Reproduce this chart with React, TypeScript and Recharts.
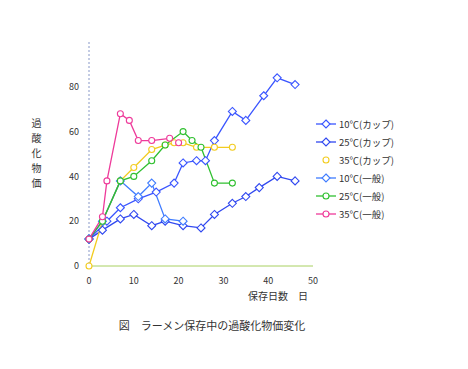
import React from 'react';
import { LineChart, Line, XAxis, YAxis } from 'recharts';

const DAY_TICKS = [0, 10, 20, 30, 40, 50];
const VALUE_TICKS = [0, 20, 40, 60, 80];

// 保存日数 / 過酸化物価
const cup10 = [
  { day: 0, value: 12 }, { day: 4, value: 20 }, { day: 7, value: 26 }, { day: 11, value: 30 },
  { day: 15, value: 33 }, { day: 19, value: 37 }, { day: 21, value: 46 }, { day: 24, value: 47 },
  { day: 26, value: 47 }, { day: 28, value: 56 }, { day: 32, value: 69 }, { day: 35, value: 65 },
  { day: 39, value: 76 }, { day: 42, value: 84 }, { day: 46, value: 81 },
];
const cup25 = [
  { day: 0, value: 12 }, { day: 3, value: 16 }, { day: 7, value: 21 }, { day: 10, value: 23 },
  { day: 14, value: 18 }, { day: 17, value: 20 }, { day: 21, value: 18 }, { day: 25, value: 17 },
  { day: 28, value: 23 }, { day: 32, value: 28 }, { day: 35, value: 31 }, { day: 38, value: 35 },
  { day: 42, value: 40 }, { day: 46, value: 38 },
];
const cup35 = [
  { day: 0, value: 0 }, { day: 3, value: 20 }, { day: 7, value: 38 }, { day: 10, value: 44 },
  { day: 14, value: 52 }, { day: 17, value: 54 }, { day: 19, value: 55 }, { day: 21, value: 55 },
  { day: 24, value: 53 }, { day: 28, value: 53 }, { day: 32, value: 53 },
];
const std10 = [
  { day: 0, value: 12 }, { day: 3, value: 20 }, { day: 7, value: 38 }, { day: 11, value: 31 },
  { day: 14, value: 37 }, { day: 17, value: 21 }, { day: 21, value: 20 },
];
const std25 = [
  { day: 0, value: 12 }, { day: 3, value: 20 }, { day: 7, value: 38 }, { day: 10, value: 40 },
  { day: 14, value: 47 }, { day: 17, value: 54 }, { day: 21, value: 60 }, { day: 23, value: 56 },
  { day: 25, value: 53 }, { day: 28, value: 37 }, { day: 32, value: 37 },
];
const std35 = [
  { day: 0, value: 12 }, { day: 3, value: 22 }, { day: 4, value: 38 }, { day: 7, value: 68 },
  { day: 9, value: 65 }, { day: 11, value: 56 }, { day: 14, value: 56 }, { day: 18, value: 57 },
  { day: 20, value: 55 },
];

const FONT = '"Noto Sans CJK JP", "Noto Sans", sans-serif';

type Marker = 'diamond' | 'filled' | 'circle';

const SERIES = [
  { name: '10℃(カップ)', data: cup10, color: '#3a55ff', marker: 'diamond' as Marker, line: true },
  { name: '25℃(カップ)', data: cup25, color: '#3048f0', marker: 'diamond' as Marker, line: true },
  { name: '35℃(カップ)', data: cup35, color: '#f2cc20', marker: 'circle' as Marker, line: false },
  { name: '10℃(一般)', data: std10, color: '#3f7cff', marker: 'diamond' as Marker, line: true },
  { name: '25℃(一般)', data: std25, color: '#30c030', marker: 'circle' as Marker, line: true },
  { name: '35℃(一般)', data: std35, color: '#ee3a9a', marker: 'circle' as Marker, line: true },
];

function markerShape(marker: Marker, color: string, cx: number, cy: number, key?: any) {
  if (marker === 'circle') {
    return <circle key={key} cx={cx} cy={cy} r={3} fill="#fff" stroke={color} strokeWidth={1.1} />;
  }
  const d = `M${cx},${cy - 4}L${cx + 4},${cy}L${cx},${cy + 4}L${cx - 4},${cy}Z`;
  return <path key={key} d={d} fill={marker === 'filled' ? color : '#fff'} stroke={color} strokeWidth={1.1} />;
}

const makeDot = (marker: Marker, color: string) => (props: any) => {
  const { cx, cy, index } = props;
  if (cx == null || cy == null) return <g key={index} />;
  return markerShape(marker, color, cx, cy, index);
};

function ChartLegend() {
  return (
    <div style={{ position: 'absolute', left: 316, top: 115, fontFamily: FONT, fontSize: 9.5, color: '#333' }}>
      {SERIES.map((s) => (
        <div key={s.name} style={{ display: 'flex', alignItems: 'center', height: 18 }}>
          <svg width={20} height={10} style={{ marginRight: 3 }}>
            {s.line && <line x1={0} y1={5} x2={20} y2={5} stroke={s.color} strokeWidth={1.3} />}
            {markerShape(s.marker, s.color, 10, 5)}
          </svg>
          <span>{s.name}</span>
        </div>
      ))}
    </div>
  );
}

export default function App() {
  return (
    <div style={{ position: 'absolute', left: 0, top: 0, width: 468, height: 369, background: '#fff' }}>
      <LineChart width={468} height={369} margin={{ top: 42, right: 155, left: 0, bottom: 73 }}>
        <XAxis
          dataKey="day"
          type="number"
          domain={[0, 50]}
          ticks={DAY_TICKS}
          allowDuplicatedCategory={false}
          axisLine={{ stroke: '#a8d060', strokeWidth: 1 }}
          tickLine={false}
          tick={{ fontSize: 9, fill: '#333', fontFamily: FONT }}
          tickMargin={6}
        />
        <YAxis
          type="number"
          domain={[0, 100]}
          ticks={VALUE_TICKS}
          width={89}
          axisLine={{ stroke: '#8898c8', strokeWidth: 1, strokeDasharray: '2 2' }}
          tickLine={false}
          tick={{ fontSize: 9, fill: '#333', fontFamily: FONT }}
          tickMargin={4}
        />
        {SERIES.map((s) => (
          <Line
            key={s.name}
            data={s.data}
            dataKey="value"
            name={s.name}
            type="linear"
            stroke={s.color}
            strokeWidth={1.3}
            dot={makeDot(s.marker, s.color)}
            activeDot={false}
            isAnimationActive={false}
          />
        ))}
        <text x={308} y={300} textAnchor="end" fontSize={10} fill="#333" fontFamily={FONT}>
          保存日数　日
        </text>
        <text x={212} y={330} textAnchor="middle" fontSize={11} fill="#333" fontFamily={FONT}>
          図　ラーメン保存中の過酸化物価変化
        </text>
      </LineChart>
      <ChartLegend />
      <div
        style={{
          position: 'absolute',
          left: 29,
          top: 118,
          writingMode: 'vertical-rl',
          fontFamily: FONT,
          fontSize: 10,
          letterSpacing: 5,
          color: '#333',
        }}
      >
        過酸化物価
      </div>
    </div>
  );
}
